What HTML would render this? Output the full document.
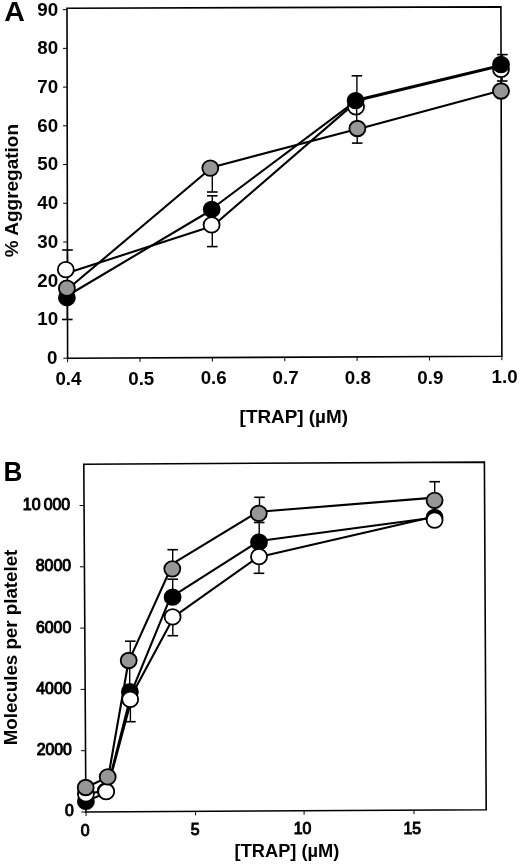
<!DOCTYPE html>
<html><head><meta charset="utf-8"><style>
html,body{margin:0;padding:0;background:#fff;}
svg{display:block;will-change:transform;}
text{font-family:"Liberation Sans",sans-serif;fill:#000;}
</style></head><body>
<svg width="520" height="865" viewBox="0 0 520 865">
<rect width="520" height="865" fill="#fff"/>
<path d="M500.90,6.85 L67.00,8.20 L67.60,358.20 L501.90,356.20 L500.90,6.85 Z" fill="none" stroke="#000" stroke-width="1.6" stroke-linejoin="miter"/>
<line x1="63.40" y1="358.20" x2="67.60" y2="358.20" stroke="#000" stroke-width="1.0" stroke-linecap="butt"/>
<line x1="63.33" y1="319.47" x2="67.53" y2="319.47" stroke="#000" stroke-width="1.0" stroke-linecap="butt"/>
<line x1="63.27" y1="280.74" x2="67.47" y2="280.74" stroke="#000" stroke-width="1.0" stroke-linecap="butt"/>
<line x1="63.20" y1="242.01" x2="67.40" y2="242.01" stroke="#000" stroke-width="1.0" stroke-linecap="butt"/>
<line x1="63.13" y1="203.28" x2="67.33" y2="203.28" stroke="#000" stroke-width="1.0" stroke-linecap="butt"/>
<line x1="63.07" y1="164.55" x2="67.27" y2="164.55" stroke="#000" stroke-width="1.0" stroke-linecap="butt"/>
<line x1="63.00" y1="125.82" x2="67.20" y2="125.82" stroke="#000" stroke-width="1.0" stroke-linecap="butt"/>
<line x1="62.94" y1="87.09" x2="67.14" y2="87.09" stroke="#000" stroke-width="1.0" stroke-linecap="butt"/>
<line x1="62.87" y1="48.36" x2="67.07" y2="48.36" stroke="#000" stroke-width="1.0" stroke-linecap="butt"/>
<line x1="62.80" y1="9.63" x2="67.00" y2="9.63" stroke="#000" stroke-width="1.0" stroke-linecap="butt"/>
<line x1="67.60" y1="358.20" x2="67.60" y2="362.20" stroke="#000" stroke-width="1.0" stroke-linecap="butt"/>
<line x1="139.98" y1="357.87" x2="139.98" y2="361.87" stroke="#000" stroke-width="1.0" stroke-linecap="butt"/>
<line x1="212.36" y1="357.53" x2="212.36" y2="361.53" stroke="#000" stroke-width="1.0" stroke-linecap="butt"/>
<line x1="284.74" y1="357.20" x2="284.74" y2="361.20" stroke="#000" stroke-width="1.0" stroke-linecap="butt"/>
<line x1="357.12" y1="356.87" x2="357.12" y2="360.87" stroke="#000" stroke-width="1.0" stroke-linecap="butt"/>
<line x1="429.50" y1="356.53" x2="429.50" y2="360.53" stroke="#000" stroke-width="1.0" stroke-linecap="butt"/>
<line x1="501.88" y1="356.20" x2="501.88" y2="360.20" stroke="#000" stroke-width="1.0" stroke-linecap="butt"/>
<text transform="translate(46.98,364.10)" font-size="18.75" font-weight="bold">0</text>
<text transform="translate(37.20,325.37)" font-size="18.75" font-weight="bold">10</text>
<text transform="translate(37.20,286.64)" font-size="18.75" font-weight="bold">20</text>
<text transform="translate(37.20,247.85)" font-size="18.75" font-weight="bold">30</text>
<text transform="translate(37.20,209.18)" font-size="18.75" font-weight="bold">40</text>
<text transform="translate(37.20,170.45)" font-size="18.75" font-weight="bold">50</text>
<text transform="translate(37.20,131.72)" font-size="18.75" font-weight="bold">60</text>
<text transform="translate(37.20,92.99)" font-size="18.75" font-weight="bold">70</text>
<text transform="translate(37.20,54.26)" font-size="18.75" font-weight="bold">80</text>
<text transform="translate(37.20,15.53)" font-size="18.75" font-weight="bold">90</text>
<text transform="translate(55.38,385.05)" font-size="18.75" font-weight="bold">0.4</text>
<text transform="translate(128.23,384.70)" font-size="18.75" font-weight="bold">0.5</text>
<text transform="translate(200.64,384.35)" font-size="18.75" font-weight="bold">0.6</text>
<text transform="translate(272.60,384.00)" font-size="18.75" font-weight="bold">0.7</text>
<text transform="translate(344.77,383.55)" font-size="18.75" font-weight="bold">0.8</text>
<text transform="translate(417.24,383.55)" font-size="18.75" font-weight="bold">0.9</text>
<text transform="translate(491.51,383.25)" font-size="18.75" font-weight="bold">1.0</text>
<text transform="translate(4.31,20.71) scale(1.0556,1)" font-size="27" font-weight="bold">A</text>
<text transform="translate(17.60,257.20) rotate(-90) scale(0.9998,1)" font-size="19" font-weight="bold">% Aggregation</text>
<text transform="translate(239.60,422.73) scale(1.0050,1)" font-size="18.8" font-weight="bold">[TRAP] (µM)</text>
<line x1="67.50" y1="262.00" x2="67.50" y2="250.00" stroke="#000" stroke-width="1.4" stroke-linecap="butt"/>
<line x1="62.20" y1="250.00" x2="72.80" y2="250.00" stroke="#000" stroke-width="1.6" stroke-linecap="butt"/>
<line x1="67.30" y1="305.00" x2="67.30" y2="319.50" stroke="#000" stroke-width="1.4" stroke-linecap="butt"/>
<line x1="62.00" y1="319.50" x2="72.60" y2="319.50" stroke="#000" stroke-width="1.6" stroke-linecap="butt"/>
<line x1="212.30" y1="175.00" x2="212.30" y2="192.00" stroke="#000" stroke-width="1.4" stroke-linecap="butt"/>
<line x1="207.00" y1="192.00" x2="217.60" y2="192.00" stroke="#000" stroke-width="1.6" stroke-linecap="butt"/>
<line x1="212.30" y1="202.00" x2="212.30" y2="195.80" stroke="#000" stroke-width="1.4" stroke-linecap="butt"/>
<line x1="207.00" y1="195.80" x2="217.60" y2="195.80" stroke="#000" stroke-width="1.6" stroke-linecap="butt"/>
<line x1="212.30" y1="232.00" x2="212.30" y2="246.60" stroke="#000" stroke-width="1.4" stroke-linecap="butt"/>
<line x1="207.00" y1="246.60" x2="217.60" y2="246.60" stroke="#000" stroke-width="1.6" stroke-linecap="butt"/>
<line x1="356.90" y1="93.00" x2="356.90" y2="75.80" stroke="#000" stroke-width="1.4" stroke-linecap="butt"/>
<line x1="351.60" y1="75.80" x2="362.20" y2="75.80" stroke="#000" stroke-width="1.6" stroke-linecap="butt"/>
<line x1="357.20" y1="136.00" x2="357.20" y2="143.10" stroke="#000" stroke-width="1.4" stroke-linecap="butt"/>
<line x1="351.90" y1="143.10" x2="362.50" y2="143.10" stroke="#000" stroke-width="1.6" stroke-linecap="butt"/>
<line x1="502.40" y1="57.00" x2="502.40" y2="54.60" stroke="#000" stroke-width="1.4" stroke-linecap="butt"/>
<line x1="497.10" y1="54.60" x2="507.70" y2="54.60" stroke="#000" stroke-width="1.6" stroke-linecap="butt"/>
<line x1="502.20" y1="78.00" x2="502.20" y2="81.00" stroke="#000" stroke-width="1.4" stroke-linecap="butt"/>
<line x1="496.90" y1="81.00" x2="507.50" y2="81.00" stroke="#000" stroke-width="1.6" stroke-linecap="butt"/>
<line x1="66.90" y1="289.80" x2="210.30" y2="168.80" stroke="#000" stroke-width="2.1" stroke-linecap="round"/>
<line x1="210.30" y1="167.70" x2="357.40" y2="128.90" stroke="#000" stroke-width="2.1" stroke-linecap="round"/>
<line x1="357.40" y1="129.20" x2="501.00" y2="90.40" stroke="#000" stroke-width="2.1" stroke-linecap="round"/>
<line x1="66.90" y1="296.00" x2="211.60" y2="210.00" stroke="#000" stroke-width="2.1" stroke-linecap="round"/>
<line x1="211.60" y1="209.00" x2="355.60" y2="101.20" stroke="#000" stroke-width="2.1" stroke-linecap="round"/>
<line x1="355.60" y1="100.10" x2="501.00" y2="65.10" stroke="#000" stroke-width="2.1" stroke-linecap="round"/>
<line x1="65.80" y1="273.50" x2="211.90" y2="226.20" stroke="#000" stroke-width="2.1" stroke-linecap="round"/>
<line x1="211.90" y1="226.80" x2="356.00" y2="102.10" stroke="#000" stroke-width="2.1" stroke-linecap="round"/>
<line x1="356.00" y1="100.90" x2="501.00" y2="65.90" stroke="#000" stroke-width="2.1" stroke-linecap="round"/>
<ellipse cx="66.90" cy="297.70" rx="8.0" ry="7.75" fill="#000" stroke="#000" stroke-width="1.8"/>
<ellipse cx="66.90" cy="288.20" rx="8.0" ry="7.75" fill="#969696" stroke="#000" stroke-width="1.8"/>
<ellipse cx="65.80" cy="269.70" rx="8.0" ry="7.75" fill="#fff" stroke="#000" stroke-width="1.8"/>
<ellipse cx="210.30" cy="168.10" rx="8.0" ry="7.75" fill="#969696" stroke="#000" stroke-width="1.8"/>
<ellipse cx="211.70" cy="209.30" rx="8.0" ry="7.75" fill="#000" stroke="#000" stroke-width="1.8"/>
<ellipse cx="211.60" cy="224.90" rx="8.0" ry="7.75" fill="#fff" stroke="#000" stroke-width="1.8"/>
<ellipse cx="357.40" cy="128.50" rx="8.0" ry="7.75" fill="#969696" stroke="#000" stroke-width="1.8"/>
<ellipse cx="356.00" cy="106.90" rx="8.0" ry="7.75" fill="#fff" stroke="#000" stroke-width="1.8"/>
<line x1="356.60" y1="100.00" x2="356.80" y2="122.00" stroke="#000" stroke-width="1.4" stroke-linecap="butt"/>
<ellipse cx="355.60" cy="100.60" rx="8.0" ry="7.75" fill="#000" stroke="#000" stroke-width="1.8"/>
<ellipse cx="501.00" cy="91.00" rx="8.0" ry="7.75" fill="#969696" stroke="#000" stroke-width="1.8"/>
<ellipse cx="501.00" cy="69.30" rx="8.0" ry="7.75" fill="#fff" stroke="#000" stroke-width="1.8"/>
<ellipse cx="501.00" cy="64.50" rx="8.0" ry="7.75" fill="#000" stroke="#000" stroke-width="1.8"/>
<path d="M484.40,462.10 L83.80,464.20 L85.90,812.00 L486.20,809.70 L484.40,462.10 Z" fill="none" stroke="#000" stroke-width="1.6" stroke-linejoin="miter"/>
<line x1="81.40" y1="812.00" x2="85.90" y2="812.00" stroke="#000" stroke-width="1.0" stroke-linecap="butt"/>
<line x1="81.03" y1="750.70" x2="85.53" y2="750.70" stroke="#000" stroke-width="1.0" stroke-linecap="butt"/>
<line x1="80.66" y1="689.40" x2="85.16" y2="689.40" stroke="#000" stroke-width="1.0" stroke-linecap="butt"/>
<line x1="80.29" y1="628.10" x2="84.79" y2="628.10" stroke="#000" stroke-width="1.0" stroke-linecap="butt"/>
<line x1="79.92" y1="566.80" x2="84.42" y2="566.80" stroke="#000" stroke-width="1.0" stroke-linecap="butt"/>
<line x1="79.55" y1="505.50" x2="84.05" y2="505.50" stroke="#000" stroke-width="1.0" stroke-linecap="butt"/>
<text transform="translate(64.97,816.19)" font-size="15.8" font-weight="normal" stroke="#000" stroke-width="1.0">0</text>
<text transform="translate(36.72,754.74)" font-size="15.8" font-weight="normal" stroke="#000" stroke-width="1.0">2000</text>
<text transform="translate(36.33,693.54)" font-size="15.8" font-weight="normal" stroke="#000" stroke-width="1.0">4000</text>
<text transform="translate(36.02,633.44)" font-size="15.8" font-weight="normal" stroke="#000" stroke-width="1.0">6000</text>
<text transform="translate(35.83,570.94)" font-size="15.8" font-weight="normal" stroke="#000" stroke-width="1.0">8000</text>
<text transform="translate(43.67,510.19) scale(1.0040,1)" font-size="15.8" font-weight="normal" stroke="#000" stroke-width="1.0">000</text>
<text transform="translate(22.84,510.19) scale(1.0112,1)" font-size="15.8" font-weight="normal" stroke="#000" stroke-width="1.0">10</text>
<line x1="86.00" y1="812.00" x2="86.00" y2="816.00" stroke="#000" stroke-width="1.0" stroke-linecap="butt"/>
<line x1="195.50" y1="811.37" x2="195.50" y2="815.37" stroke="#000" stroke-width="1.0" stroke-linecap="butt"/>
<line x1="304.10" y1="810.75" x2="304.10" y2="814.75" stroke="#000" stroke-width="1.0" stroke-linecap="butt"/>
<line x1="414.00" y1="810.11" x2="414.00" y2="814.11" stroke="#000" stroke-width="1.0" stroke-linecap="butt"/>
<text transform="translate(80.83,836.04)" font-size="15.8" font-weight="normal" stroke="#000" stroke-width="1.0">0</text>
<text transform="translate(190.77,835.23)" font-size="15.8" font-weight="normal" stroke="#000" stroke-width="1.0">5</text>
<text transform="translate(293.79,834.44)" font-size="15.8" font-weight="normal" stroke="#000" stroke-width="1.0">10</text>
<text transform="translate(403.49,833.67)" font-size="15.8" font-weight="normal" stroke="#000" stroke-width="1.0">15</text>
<text transform="translate(3.40,480.66) scale(0.9697,1)" font-size="27" font-weight="bold">B</text>
<text transform="translate(17.20,745.33) rotate(-90) scale(0.9863,1)" font-size="19" font-weight="bold">Molecules per platelet</text>
<text transform="translate(234.59,857.12) scale(1.0138,1)" font-size="18.0" font-weight="bold">[TRAP] (µM)</text>
<line x1="130.30" y1="653.00" x2="130.30" y2="641.20" stroke="#000" stroke-width="1.4" stroke-linecap="butt"/>
<line x1="125.00" y1="641.20" x2="135.60" y2="641.20" stroke="#000" stroke-width="1.6" stroke-linecap="butt"/>
<line x1="129.70" y1="668.00" x2="129.70" y2="684.00" stroke="#000" stroke-width="1.4" stroke-linecap="butt"/>
<line x1="130.40" y1="707.00" x2="130.40" y2="721.70" stroke="#000" stroke-width="1.4" stroke-linecap="butt"/>
<line x1="125.10" y1="721.70" x2="135.70" y2="721.70" stroke="#000" stroke-width="1.6" stroke-linecap="butt"/>
<line x1="172.70" y1="561.00" x2="172.70" y2="549.70" stroke="#000" stroke-width="1.4" stroke-linecap="butt"/>
<line x1="167.40" y1="549.70" x2="178.00" y2="549.70" stroke="#000" stroke-width="1.6" stroke-linecap="butt"/>
<line x1="172.70" y1="590.00" x2="172.70" y2="579.20" stroke="#000" stroke-width="1.4" stroke-linecap="butt"/>
<line x1="167.40" y1="579.20" x2="178.00" y2="579.20" stroke="#000" stroke-width="1.6" stroke-linecap="butt"/>
<line x1="172.80" y1="624.00" x2="172.80" y2="635.70" stroke="#000" stroke-width="1.4" stroke-linecap="butt"/>
<line x1="167.50" y1="635.70" x2="178.10" y2="635.70" stroke="#000" stroke-width="1.6" stroke-linecap="butt"/>
<line x1="259.50" y1="506.00" x2="259.50" y2="497.30" stroke="#000" stroke-width="1.4" stroke-linecap="butt"/>
<line x1="254.20" y1="497.30" x2="264.80" y2="497.30" stroke="#000" stroke-width="1.6" stroke-linecap="butt"/>
<line x1="259.20" y1="535.00" x2="259.20" y2="522.50" stroke="#000" stroke-width="1.4" stroke-linecap="butt"/>
<line x1="253.90" y1="522.50" x2="264.50" y2="522.50" stroke="#000" stroke-width="1.6" stroke-linecap="butt"/>
<line x1="259.00" y1="564.00" x2="259.00" y2="573.30" stroke="#000" stroke-width="1.4" stroke-linecap="butt"/>
<line x1="253.70" y1="573.30" x2="264.30" y2="573.30" stroke="#000" stroke-width="1.6" stroke-linecap="butt"/>
<line x1="434.70" y1="493.00" x2="434.70" y2="481.70" stroke="#000" stroke-width="1.4" stroke-linecap="butt"/>
<line x1="429.40" y1="481.70" x2="440.00" y2="481.70" stroke="#000" stroke-width="1.6" stroke-linecap="butt"/>
<line x1="85.70" y1="787.50" x2="108.20" y2="777.00" stroke="#000" stroke-width="2.1" stroke-linecap="round"/>
<line x1="108.30" y1="776.90" x2="128.70" y2="660.30" stroke="#000" stroke-width="2.1" stroke-linecap="round"/>
<line x1="128.70" y1="661.40" x2="172.30" y2="565.00" stroke="#000" stroke-width="2.1" stroke-linecap="round"/>
<line x1="172.30" y1="563.90" x2="258.75" y2="511.40" stroke="#000" stroke-width="2.1" stroke-linecap="round"/>
<line x1="258.75" y1="511.80" x2="434.60" y2="497.60" stroke="#000" stroke-width="2.1" stroke-linecap="round"/>
<line x1="85.90" y1="801.40" x2="105.80" y2="793.00" stroke="#000" stroke-width="2.1" stroke-linecap="round"/>
<line x1="107.50" y1="789.00" x2="133.50" y2="691.70" stroke="#000" stroke-width="2.1" stroke-linecap="round"/>
<line x1="131.70" y1="691.70" x2="170.50" y2="597.20" stroke="#000" stroke-width="2.1" stroke-linecap="round"/>
<line x1="170.70" y1="597.30" x2="259.00" y2="541.00" stroke="#000" stroke-width="2.1" stroke-linecap="round"/>
<line x1="259.00" y1="541.00" x2="434.60" y2="517.50" stroke="#000" stroke-width="2.1" stroke-linecap="round"/>
<line x1="85.90" y1="794.00" x2="106.20" y2="790.50" stroke="#000" stroke-width="2.1" stroke-linecap="round"/>
<line x1="106.50" y1="791.50" x2="129.80" y2="699.30" stroke="#000" stroke-width="2.1" stroke-linecap="round"/>
<line x1="129.50" y1="699.30" x2="173.80" y2="616.90" stroke="#000" stroke-width="2.1" stroke-linecap="round"/>
<line x1="172.60" y1="617.70" x2="259.00" y2="556.40" stroke="#000" stroke-width="2.1" stroke-linecap="round"/>
<line x1="259.00" y1="557.00" x2="434.60" y2="516.50" stroke="#000" stroke-width="2.1" stroke-linecap="round"/>
<ellipse cx="85.90" cy="801.40" rx="8.0" ry="7.75" fill="#000" stroke="#000" stroke-width="1.8"/>
<ellipse cx="85.90" cy="794.00" rx="8.0" ry="7.75" fill="#fff" stroke="#000" stroke-width="1.8"/>
<ellipse cx="85.70" cy="787.50" rx="8.0" ry="7.75" fill="#969696" stroke="#000" stroke-width="1.8"/>
<ellipse cx="105.80" cy="791.00" rx="8.0" ry="7.75" fill="#000" stroke="#000" stroke-width="1.8"/>
<ellipse cx="106.20" cy="791.70" rx="8.0" ry="7.75" fill="#fff" stroke="#000" stroke-width="1.8"/>
<ellipse cx="107.70" cy="776.90" rx="8.0" ry="7.75" fill="#969696" stroke="#000" stroke-width="1.8"/>
<ellipse cx="129.90" cy="691.70" rx="8.0" ry="7.75" fill="#000" stroke="#000" stroke-width="1.8"/>
<ellipse cx="130.20" cy="699.30" rx="8.0" ry="7.75" fill="#fff" stroke="#000" stroke-width="1.8"/>
<ellipse cx="128.70" cy="660.50" rx="8.0" ry="7.75" fill="#969696" stroke="#000" stroke-width="1.8"/>
<ellipse cx="172.60" cy="597.20" rx="8.0" ry="7.75" fill="#000" stroke="#000" stroke-width="1.8"/>
<ellipse cx="172.60" cy="616.90" rx="8.0" ry="7.75" fill="#fff" stroke="#000" stroke-width="1.8"/>
<ellipse cx="172.30" cy="568.80" rx="8.0" ry="7.75" fill="#969696" stroke="#000" stroke-width="1.8"/>
<ellipse cx="259.00" cy="542.20" rx="8.0" ry="7.75" fill="#000" stroke="#000" stroke-width="1.8"/>
<ellipse cx="259.00" cy="556.70" rx="8.0" ry="7.75" fill="#fff" stroke="#000" stroke-width="1.8"/>
<ellipse cx="258.75" cy="513.40" rx="8.0" ry="7.75" fill="#969696" stroke="#000" stroke-width="1.8"/>
<ellipse cx="434.60" cy="517.30" rx="8.0" ry="7.75" fill="#000" stroke="#000" stroke-width="1.8"/>
<ellipse cx="434.60" cy="520.10" rx="8.0" ry="7.75" fill="#fff" stroke="#000" stroke-width="1.8"/>
<ellipse cx="434.60" cy="500.30" rx="8.0" ry="7.75" fill="#969696" stroke="#000" stroke-width="1.8"/>
</svg>
</body></html>
